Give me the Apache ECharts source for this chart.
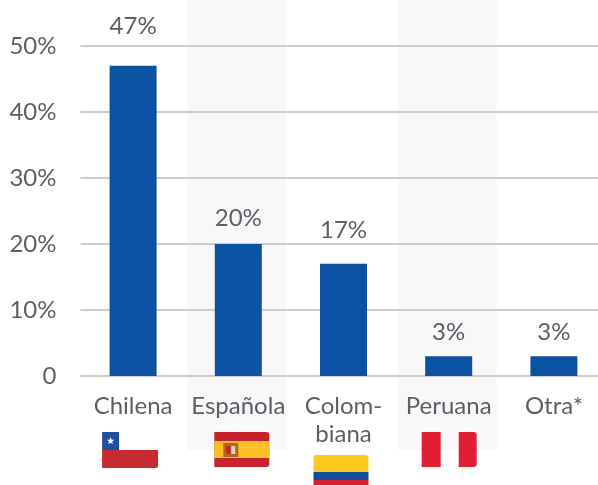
<!DOCTYPE html>
<html>
<head>
<meta charset="utf-8">
<script src="https://cdn.jsdelivr.net/npm/echarts@6/dist/echarts.min.js"></script>
<style>
  html, body { margin:0; padding:0; background:#fff; }
  #chart { width:598px; height:485px; }
</style>
</head>
<body>
<div id="chart"></div>
<script type="text/javascript">
  // datos
  var categories = ['Chilena', 'Española', 'Colom-\nbiana', 'Peruana', 'Otra*'];
  var values = [47, 20, 17, 3, 3];
  var tickValues = [0, 10, 20, 30, 40, 50];
  var shadedCategories = [1, 3];
  var flagCategories = [0, 1, 2, 3];

  // separacion de cada etiqueta sobre su barra
  var labelGaps = [28, 14, 22, 12, 12];

  var textColor = '#5d5f62';
  var fontName = 'Lato';

  function rect(x, y, w, h, fill, r) {
    return { type:'rect', shape:{ x:x, y:y, width:w, height:h, r:r || 0 }, style:{ fill:fill } };
  }

  function star(cx, cy, size) {
    var pts = [];
    for (var i = 0; i < 10; i++) {
      var rad = i % 2 ? size * 0.42 : size;
      var a = -Math.PI / 2 + i * Math.PI / 5;
      pts.push([cx + rad * Math.cos(a), cy + rad * Math.sin(a)]);
    }
    return { type:'polygon', shape:{ points:pts }, style:{ fill:'#fff' } };
  }

  function flagShapes(idx, cx, y0) {
    var x, y;
    if (idx === 0) { // Chile
      x = cx - 31; y = y0 + 56;
      return [
        rect(x, y + 18, 56, 18, '#c62b30', [0, 0, 3, 0]),
        rect(x, y, 17, 18, '#1f4fa3'),
        star(x + 8.5, y + 9, 4)
      ];
    }
    if (idx === 1) { // Espana
      x = cx - 24; y = y0 + 56;
      return [
        rect(x, y, 55, 35, '#c8202c', [0, 3, 3, 0]),
        rect(x, y + 9, 55, 17, '#fdc026'),
        rect(x + 9, y + 11, 15, 14, '#b5651d'),
        rect(x + 12, y + 14, 4, 8, '#c8202c'),
        rect(x + 17, y + 14, 4, 8, '#d8d2c4')
      ];
    }
    if (idx === 2) { // Colombia
      x = cx - 30; y = y0 + 79;
      return [
        rect(x, y, 55, 17, '#fdc921', [3, 3, 0, 0]),
        rect(x, y + 17, 55, 8, '#134c9c'),
        rect(x, y + 25, 55, 5, '#d3222f')
      ];
    }
    // Peru
    x = cx - 27; y = y0 + 56;
    return [
      rect(x, y, 19, 35, '#e01f35'),
      rect(x + 37, y, 18, 35, '#e01f35', [0, 3, 3, 0])
    ];
  }

  var myChart = echarts.init(document.getElementById('chart'));
  myChart.setOption({
    animation: false,
    grid: { left:80.5, top:46, width:526, height:330, outerBoundsMode:'none' },
    xAxis: {
      type: 'category',
      data: categories,
      axisLine: { show:false },
      axisTick: { show:false },
      axisLabel: {
        interval: 0, margin: 16, color: textColor, fontFamily: fontName,
        fontSize: 24, lineHeight: 28, verticalAlign: 'top'
      }
    },
    yAxis: {
      type: 'value',
      min: tickValues[0],
      max: tickValues[tickValues.length - 1],
      interval: 10,
      axisLine: { show:false },
      axisTick: { show:false },
      axisLabel: {
        margin: 24, color: textColor, fontFamily: fontName, fontSize: 24,
        formatter: function (v) { return v === 0 ? '0' : v + '%'; }
      },
      splitLine: { lineStyle:{ color:'#cbcdd0', width:2 } }
    },
    series: [
      {
        // franjas de fondo
        type: 'custom',
        z: -1,
        silent: true,
        clip: false,
        encode: { x:0 },
        data: shadedCategories.map(function (c) { return [c]; }),
        renderItem: function (params, api) {
          var p = api.coord([api.value(0), 0]);
          return rect(p[0] - 51, p[1] - 376, 99, 450, '#f8f8fa');
        }
      },
      {
        type: 'bar',
        barWidth: 47,
        itemStyle: { color:'#0b52a3' },
        label: {
          show: true, position: 'top', color: textColor, fontFamily: fontName,
          fontSize: 24, formatter: '{c}%'
        },
        data: values.map(function (v, i) {
          return { value:v, label:{ distance:labelGaps[i] } };
        })
      },
      {
        // banderas
        type: 'custom',
        silent: true,
        clip: false,
        encode: { x:0 },
        data: flagCategories.map(function (c) { return [c]; }),
        renderItem: function (params, api) {
          var idx = api.value(0);
          var p = api.coord([idx, 0]);
          return { type:'group', children:flagShapes(idx, p[0], p[1]) };
        }
      }
    ]
  });
</script>
</body>
</html>
